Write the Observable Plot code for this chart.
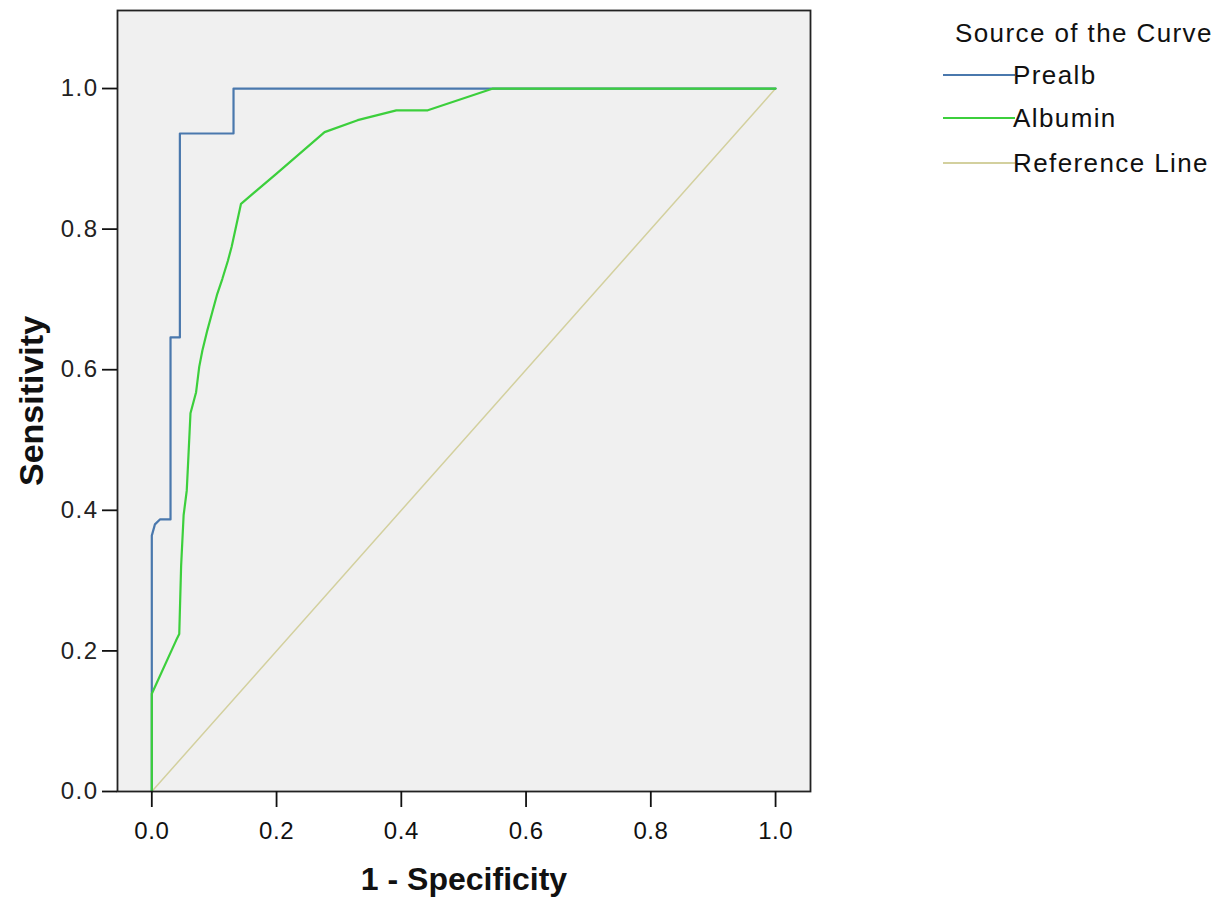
<!DOCTYPE html>
<html>
<head>
<meta charset="utf-8">
<script src="https://cdn.jsdelivr.net/npm/d3@7"></script>
<script src="https://cdn.jsdelivr.net/npm/@observablehq/plot@0.6"></script>
<style>
  html, body { margin: 0; padding: 0; background: #ffffff; }
  #wrap { position: relative; width: 1232px; height: 904px; }
  #legend { position: absolute; left: 0; top: 0; width: 1232px; height: 904px; pointer-events: none;
            font-family: "Liberation Sans", Arial, sans-serif; color: #111; }
  .lg-title { position: absolute; left: 955px; top: 33px; transform: translateY(-50%); font-size: 26px; letter-spacing: 1.4px; white-space: nowrap; }
  .lg-row { position: absolute; left: 943px; height: 0; }
  .lg-line { position: absolute; left: 0; top: -1px; width: 72px; height: 2px; }
  .lg-text { position: absolute; left: 70px; top: 0; transform: translateY(-50%); font-size: 26px; letter-spacing: 1.4px; white-space: nowrap; }
  g[aria-label="y-axis tick label"] text { letter-spacing: 1.5px; }
  g[aria-label="x-axis tick label"] text { letter-spacing: 0.5px; }
</style>
</head>
<body>
<div id="wrap"><div id="chart"></div><div id="legend"></div></div>
<script>
// ---- data ----
const seriesNames = ["Prealb", "Albumin", "Reference Line"];
const seriesColors = ["#4a78ad", "#3ccf3c", "#d3d09e"];

const prealbX = [0, 0, 0, 0.005, 0.013, 0.03, 0.03, 0.045, 0.045, 0.131, 0.131, 1];
const prealbY = [0, 0.139, 0.364, 0.38, 0.387, 0.387, 0.646, 0.646, 0.936, 0.936, 1, 1];

const albuminX = [0, 0, 0.039, 0.044, 0.047, 0.049, 0.051, 0.056, 0.058, 0.062, 0.071, 0.076, 0.081, 0.089, 0.097, 0.105, 0.113, 0.122, 0.128, 0.143, 0.2, 0.277, 0.33, 0.392, 0.4425, 0.547, 1];
const albuminY = [0, 0.139, 0.215, 0.224, 0.321, 0.357, 0.393, 0.428, 0.464, 0.538, 0.568, 0.604, 0.627, 0.656, 0.682, 0.708, 0.729, 0.755, 0.775, 0.836, 0.879, 0.938, 0.955, 0.969, 0.969, 1, 1];

const refX = [0, 1];
const refY = [0, 1];

const tickValues = [0, 0.2, 0.4, 0.6, 0.8, 1.0];
const xTitle = "1 - Specificity";
const yTitle = "Sensitivity";
const legendTitle = "Source of the Curve";

// ---- build table ----
const toRows = (xs, ys, name) => xs.map((x, i) => ({x, y: ys[i], series: name}));
const prealbRows = toRows(prealbX, prealbY, seriesNames[0]);
const albuminRows = toRows(albuminX, albuminY, seriesNames[1]);
const refRows = toRows(refX, refY, seriesNames[2]);

const fontMain = "'Liberation Sans', Arial, sans-serif";

const chart = Plot.plot({
  width: 1232,
  height: 904,
  marginLeft: 117,
  marginRight: 422,
  marginTop: 10,
  marginBottom: 113,
  style: { background: "transparent", fontFamily: fontMain, color: "#111" },
  x: { domain: [-0.055, 1.056] },
  y: { domain: [0, 1.111] },
  marks: [
    Plot.frame({ fill: "#f0f0f0", stroke: null }),
    Plot.line(refRows, { x: "x", y: "y", stroke: seriesColors[2], strokeWidth: 1.5 }),
    Plot.line(prealbRows, { x: "x", y: "y", stroke: seriesColors[0], strokeWidth: 2.2, curve: "linear" }),
    Plot.line(albuminRows, { x: "x", y: "y", stroke: seriesColors[1], strokeWidth: 2.2, curve: "linear" }),
    Plot.frame({ stroke: "#222", strokeWidth: 1.8 }),
    Plot.axisX({ ticks: tickValues, tickFormat: d3.format(".1f"), tickSize: 16, tickPadding: 14, strokeWidth: 1.8, fontSize: 24, label: null, fill: "#111" }),
    Plot.axisY({ ticks: tickValues, tickFormat: d3.format(".1f"), tickSize: 15, tickPadding: 4, strokeWidth: 1.8, fontSize: 24, label: null, fill: "#222" }),
    Plot.text([xTitle], { frameAnchor: "bottom", dy: 88, lineAnchor: "middle", textAnchor: "middle", fontSize: 32, fontWeight: "bold", fill: "#111" }),
    Plot.text([yTitle], { frameAnchor: "left", dx: -85, rotate: -90, textAnchor: "middle", lineAnchor: "middle", fontSize: 34, fontWeight: "bold", fill: "#111" })
  ]
});
document.getElementById("chart").appendChild(chart);

// ---- legend (HTML, to the right of the plot) ----
const legend = document.getElementById("legend");
const t = document.createElement("div");
t.className = "lg-title";
t.textContent = legendTitle;
legend.appendChild(t);
const rowY = [75, 118, 163];
seriesNames.forEach((name, i) => {
  const row = document.createElement("div");
  row.className = "lg-row";
  row.style.top = rowY[i] + "px";
  const ln = document.createElement("div");
  ln.className = "lg-line";
  ln.style.background = seriesColors[i];
  const tx = document.createElement("div");
  tx.className = "lg-text";
  tx.textContent = name;
  row.appendChild(ln);
  row.appendChild(tx);
  legend.appendChild(row);
});
</script>
</body>
</html>
